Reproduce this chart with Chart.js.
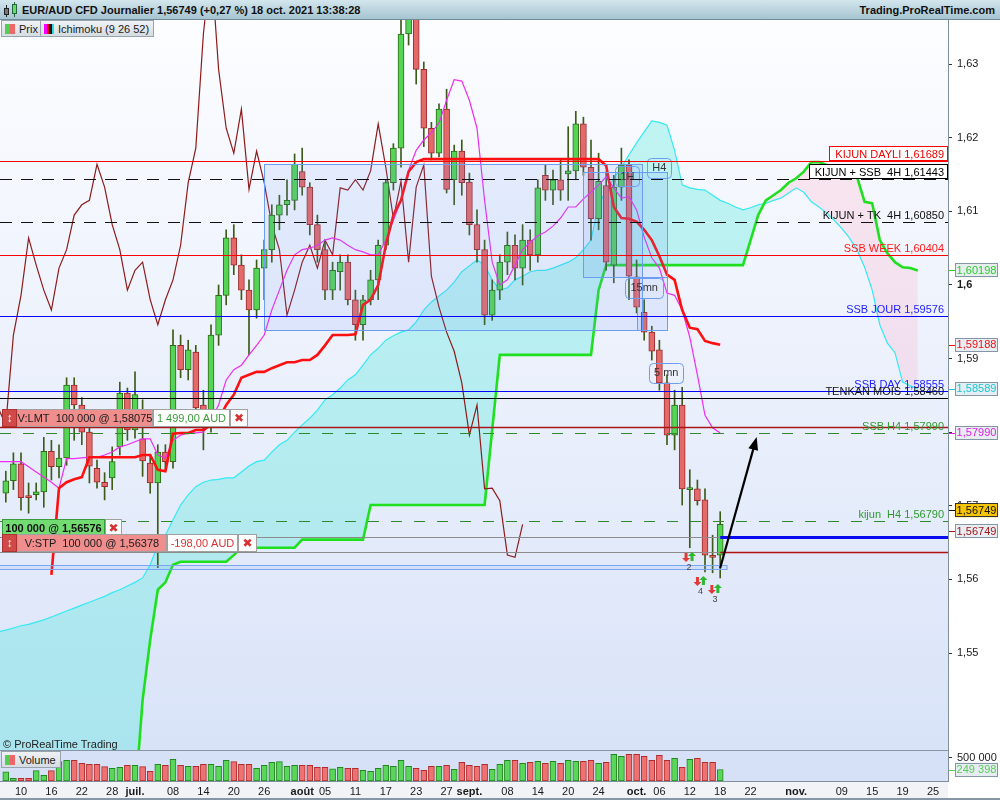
<!DOCTYPE html>
<html lang="fr">
<head>
<meta charset="utf-8">
<title>EUR/AUD CFD Journalier</title>
<script src="https://cdn.jsdelivr.net/npm/chart.js@4.4.1/dist/chart.umd.min.js"></script>
<style>
  html,body{margin:0;padding:0;background:#fff}
  body{position:relative;width:1000px;height:800px;overflow:hidden;font-family:"Liberation Sans",Arial,sans-serif;color:#111}
  #hdr{position:absolute;left:0;top:0;width:1000px;height:19px;background:linear-gradient(#d3e6ed,#a6c4d1);border-bottom:1px solid #6f8b99;font-size:11px;font-weight:bold}
  #hdr .ttl{position:absolute;left:22px;top:4px;white-space:nowrap}
  #hdr .site{position:absolute;right:5px;top:4px}
  .ico{position:absolute;box-sizing:border-box;border:1px solid #222}
  .wk{position:absolute;width:1px;background:#222}
  #main{position:absolute;left:0;top:20px}
  #vol{position:absolute;left:0;top:750px}
  .leg{position:absolute;height:17px;line-height:16px;border:1px solid #98a3ad;background:linear-gradient(#eff2f5,#d5dce2);font-size:11px;color:#1a1a1a;padding:0 4px 0 17px;box-sizing:border-box;white-space:nowrap}
  .leg i{position:absolute;left:3px;top:3px;height:10px;width:10px}
  #copy{position:absolute;left:3px;top:738px;font-size:11px;color:#222}
</style>
</head>
<body>
<canvas id="main" width="1000" height="730"></canvas>
<canvas id="vol" width="1000" height="50"></canvas>

<div id="hdr">
  <div class="wk" style="left:6px;top:5px;height:12px"></div>
  <div class="ico" style="left:4px;top:8px;width:5px;height:7px;background:#777"></div>
  <div class="wk" style="left:14px;top:2px;height:15px;background:#264"></div>
  <div class="ico" style="left:12px;top:4px;width:5px;height:10px;background:#6d6;border-color:#264"></div>
  <span class="ttl">EUR/AUD CFD Journalier 1,56749 (+0,27 %) 18 oct. 2021 13:38:28</span>
  <span class="site">Trading.ProRealTime.com</span>
</div>
<div class="leg" style="left:1px;top:20px"><i style="background:linear-gradient(90deg,#5c5 50%,#e66 50%)"></i>Prix</div>
<div class="leg" style="left:40px;top:20px"><i style="background:linear-gradient(90deg,#f0f 25%,#d00 25%,#d00 50%,#300 50%,#300 75%,#2dd 75%)"></i>Ichimoku (9 26 52)</div>
<div id="copy">© ProRealTime Trading</div>
<div class="leg" style="left:1px;top:751px"><i style="background:linear-gradient(90deg,#5c5 50%,#e66 50%)"></i>Volume</div>

<script>
// daily candles, 8 juin -> 18 oct. 2021 (index 0..94)
const open = [1.5717,1.5734,1.5757,1.5712,1.5715,1.5719,1.5774,1.5753,1.5765,1.5864,
  1.5837,1.5800,1.5751,1.5732,1.5738,1.5780,1.5853,1.5803,1.5791,1.5758,
  1.5731,1.5773,1.5760,1.5918,1.5885,1.5909,1.5837,1.5807,1.5932,1.5986,
  1.6064,1.6027,1.5993,1.5966,1.6023,1.6048,1.6095,1.6109,1.6115,1.6154,
  1.6133,1.6082,1.6048,1.5993,1.6018,1.6031,1.5980,1.5946,1.5980,1.6007,
  1.6054,1.6139,1.6186,1.6341,1.6440,1.6293,1.6213,1.6179,1.6239,1.6143,
  1.6182,1.6140,1.6082,1.6048,1.5959,1.5993,1.6031,1.6054,1.6023,1.6061,
  1.6041,1.6149,1.6129,1.6143,1.6151,1.6155,1.6219,1.6160,1.6090,1.6135,
  1.6027,1.6133,1.6163,1.6011,1.5963,1.5936,1.5912,1.5867,1.5796,1.5837,
  1.5722,1.5723,1.5708,1.5632,1.5633];
const high = [1.5747,1.5772,1.5772,1.5731,1.5731,1.5793,1.5789,1.5783,1.5874,1.5874,
  1.5847,1.5810,1.5762,1.5745,1.5780,1.5868,1.5860,1.5882,1.5844,1.5769,
  1.5783,1.5783,1.5939,1.5932,1.5925,1.5918,1.5857,1.5946,1.6000,1.6075,
  1.6082,1.6041,1.6007,1.6034,1.6061,1.6109,1.6122,1.6143,1.6178,1.6186,
  1.6139,1.6095,1.6061,1.6031,1.6041,1.6041,1.5993,1.5986,1.6020,1.6061,
  1.6143,1.6192,1.6374,1.6520,1.6455,1.6303,1.6221,1.6246,1.6266,1.6190,
  1.6197,1.6152,1.6102,1.6061,1.6007,1.6041,1.6072,1.6068,1.6082,1.6075,
  1.6143,1.6163,1.6156,1.6170,1.6215,1.6236,1.6228,1.6197,1.6179,1.6154,
  1.6149,1.6186,1.6170,1.6034,1.5980,1.5944,1.5925,1.5878,1.5857,1.5861,
  1.5749,1.5735,1.5723,1.5660,1.5692];
const low = [1.5705,1.5722,1.5694,1.5690,1.5708,1.5698,1.5735,1.5738,1.5755,1.5789,
  1.5783,1.5731,1.5724,1.5708,1.5722,1.5769,1.5789,1.5792,1.5740,1.5717,
  1.5616,1.5749,1.5751,1.5874,1.5871,1.5827,1.5776,1.5800,1.5918,1.5973,
  1.6014,1.5980,1.5905,1.5955,1.5980,1.6031,1.6075,1.6095,1.6102,1.6122,
  1.6068,1.6031,1.5980,1.5980,1.5993,1.5973,1.5925,1.5925,1.5973,1.5980,
  1.6048,1.6129,1.6160,1.6326,1.6273,1.6188,1.6170,1.6174,1.6125,1.6109,
  1.6122,1.6068,1.6031,1.5946,1.5952,1.5980,1.6014,1.6007,1.6000,1.6020,
  1.6031,1.6115,1.6109,1.6115,1.6115,1.6143,1.6149,1.6061,1.6075,1.6020,
  1.6003,1.6115,1.5980,1.5962,1.5925,1.5898,1.5857,1.5783,1.5776,1.5701,
  1.5643,1.5701,1.5610,1.5609,1.5602];
const close = [1.5734,1.5757,1.5711,1.5711,1.5719,1.5774,1.5753,1.5765,1.5864,1.5837,
  1.5800,1.5754,1.5732,1.5726,1.5760,1.5853,1.5803,1.5851,1.5761,1.5731,
  1.5773,1.5760,1.5918,1.5885,1.5912,1.5833,1.5810,1.5932,1.5986,1.6064,
  1.6027,1.5993,1.5966,1.6023,1.6048,1.6095,1.6109,1.6115,1.6164,1.6133,
  1.6082,1.6048,1.5993,1.6020,1.6031,1.5980,1.5946,1.5980,1.6007,1.6054,
  1.6139,1.6186,1.6341,1.6440,1.6293,1.6213,1.6179,1.6239,1.6130,1.6182,
  1.6139,1.6082,1.6048,1.5959,1.5993,1.6031,1.6054,1.6023,1.6061,1.6041,
  1.6132,1.6129,1.6143,1.6129,1.6155,1.6219,1.6160,1.6090,1.6141,1.6031,
  1.6133,1.6163,1.6012,1.5970,1.5936,1.5910,1.5867,1.5796,1.5837,1.5723,
  1.5724,1.5707,1.5633,1.5630,1.56749];
// volume, thousands
const volume = [202,59,59,59,224,124,224,420,450,450,
  385,363,363,311,276,298,341,341,311,211,
  363,341,472,341,320,320,363,363,320,450,
  420,363,363,276,341,407,420,320,341,341,
  341,298,298,267,298,276,276,233,211,276,
  341,320,450,320,276,233,320,320,341,254,
  407,341,320,363,254,363,450,450,385,407,
  428,385,428,385,450,428,428,450,385,407,
  580,537,580,580,537,450,559,450,494,298,
  472,494,407,407,249.398];

// Ichimoku lines (tenkan 0..94, kijun -1..94)
const tenkan = [null,null,null,null,null,null,1.5606,1.5724,1.5732,1.5736,
  1.5739,1.5766,1.5766,1.5766,1.5766,1.5766,1.5766,1.5766,1.5769,1.5769,
  1.5749,1.5747,1.5798,1.5799,1.5799,1.5803,1.5803,1.5810,1.5817,1.5837,
  1.5851,1.5874,1.5878,1.5882,1.5882,1.5887,1.5891,1.5895,1.5895,1.5898,
  1.5898,1.5905,1.5918,1.5932,1.5932,1.5932,1.5933,1.5973,1.5980,1.6000,
  1.6054,1.6095,1.6115,1.6154,1.6167,1.6171,1.6171,1.6171,1.6171,1.6171,
  1.6171,1.6171,1.6171,1.6171,1.6171,1.6171,1.6171,1.6171,1.6171,1.6171,
  1.6171,1.6171,1.6171,1.6171,1.6171,1.6171,1.6171,1.6171,1.6171,1.6162,
  1.6106,1.6091,1.6090,1.6086,1.6075,1.6061,1.6039,1.6014,1.6007,1.5966,
  1.5942,1.5940,1.5924,1.5921,1.59188];
const kijun = [1.5760,
  1.5760,1.5760,1.5760,1.5753,1.5746,1.5739,1.5732,1.5724,1.5764,1.5764,
  1.5765,1.5766,1.5766,1.5769,1.5773,1.5780,1.5783,1.5787,1.5791,1.5791,
  1.5769,1.5765,1.5789,1.5796,1.5799,1.5799,1.5800,1.5817,1.5837,1.5871,
  1.5885,1.5891,1.5905,1.5918,1.5932,1.5966,1.5993,1.6020,1.6041,1.6048,
  1.6050,1.6054,1.6061,1.6064,1.6061,1.6054,1.6048,1.6045,1.6041,1.6041,
  1.6061,1.6088,1.6115,1.6156,1.6183,1.6197,1.6207,1.6220,1.6251,1.6279,
  1.6277,1.6251,1.6213,1.6115,1.6031,1.6000,1.6007,1.6027,1.6048,1.6058,
  1.6067,1.6072,1.6080,1.6091,1.6106,1.6106,1.6117,1.6126,1.6136,1.6147,
  1.6132,1.6118,1.6120,1.6102,1.6065,1.6037,1.6023,1.5989,1.5986,1.5966,
  1.5929,1.5878,1.5823,1.5806,1.57990];
// senkou spans, index -1..120 (26 sessions ahead)
const ssa = [1.5529,
  1.5531,1.5534,1.5537,1.5539,1.5542,1.5545,1.5549,1.5553,1.5557,1.5561,
  1.5565,1.5569,1.5573,1.5577,1.5582,1.5586,1.5591,1.5596,1.5602,1.5620,
  1.5647,1.5660,1.5681,1.5701,1.5715,1.5726,1.5732,1.5735,1.5736,1.5738,
  1.5738,1.5746,1.5754,1.5760,1.5762,1.5773,1.5783,1.5789,1.5800,1.5810,
  1.5819,1.5830,1.5844,1.5851,1.5860,1.5871,1.5878,1.5891,1.5905,1.5914,
  1.5925,1.5931,1.5936,1.5939,1.5950,1.5966,1.5977,1.5985,1.5993,1.6004,
  1.6018,1.6026,1.6034,1.6027,1.6007,1.5993,1.5996,1.6007,1.6012,1.6018,
  1.6020,1.6020,1.6023,1.6027,1.6031,1.6037,1.6048,1.6061,1.6109,1.6129,
  1.6145,1.6160,1.6177,1.6193,1.6208,1.6223,1.6221,1.6217,1.6183,1.6136,
  1.6132,1.6130,1.6129,1.6122,1.6115,1.6111,1.6106,1.6102,1.6105,1.6109,
  1.6111,1.6115,1.6118,1.6125,1.6132,1.6126,1.6113,1.6106,1.6098,1.6088,
  1.6077,1.6064,1.6048,1.6024,1.5993,1.5946,1.5921,1.5908,1.5868,1.5863,
  1.58589];
const ssb = [1.5300,
  1.5300,1.5300,1.5300,1.5300,1.5300,1.5300,1.5300,1.5300,1.5300,1.5300,
  1.5300,1.5300,1.5300,1.5300,1.5300,1.5300,1.5300,1.5300,1.5436,1.5518,
  1.5586,1.5596,1.5620,1.5624,1.5624,1.5624,1.5624,1.5624,1.5624,1.5624,
  1.5633,1.5643,1.5643,1.5643,1.5643,1.5643,1.5643,1.5643,1.5643,1.5654,
  1.5654,1.5654,1.5654,1.5654,1.5654,1.5654,1.5654,1.5654,1.5701,1.5701,
  1.5701,1.5701,1.5701,1.5701,1.5701,1.5701,1.5701,1.5701,1.5701,1.5701,
  1.5701,1.5701,1.5701,1.5701,1.5803,1.5905,1.5905,1.5905,1.5905,1.5905,
  1.5905,1.5905,1.5905,1.5905,1.5905,1.5905,1.5905,1.5905,1.5993,1.6027,
  1.6027,1.6027,1.6027,1.6027,1.6027,1.6027,1.6027,1.6027,1.6027,1.6027,
  1.6027,1.6027,1.6027,1.6027,1.6027,1.6027,1.6027,1.6027,1.6061,1.6095,
  1.6115,1.6122,1.6129,1.6139,1.6145,1.6154,1.6167,1.6167,1.6163,1.6159,
  1.6155,1.6151,1.6147,1.6113,1.6111,1.6061,1.6043,1.6031,1.6024,1.6023,
  1.60198];

const priceTicks = [1.55,1.56,1.57,1.58,1.59,1.60,1.61,1.62,1.63];
const tickIdx  = [2,6,10,14,17,22,26,30,34,39,42,46,50,54,58,61,66,70,74,78,83,86,90,94,98,104,110,114,118,122];
const tickText = ['10','16','22','28','juil.','08','14','20','26','août','05','11','17','23','27','sept.','08','14','20','24','oct.','06','12','18','22','nov.','09','15','19','25'];
const monthLabels = ['juil.','août','sept.','oct.','nov.'];

// drawn support / resistance levels
const levelNames  = ['KIJUN DAYLI','KIJUN + SSB  4H','KIJUN + TK  4H','SSB WEEK','SSB JOUR','SSB DAY','TENKAN MOIS','SSB H4','kijun  H4'];
const levelPrices = [1.61689,1.61443,1.60850,1.60404,1.59576,1.58555,1.58460,1.57990,1.56790];
const levelColor  = ['#ff0000','#111111','#111111','#ff0000','#0000ff','#0000ff','#000000','#2d8a2d','#2d8a2d'];
const levelText   = ['#ee0000','#000000','#111111','#ff1a1a','#2222ff','#2222ff','#111111','#2f9a2f','#2f9a2f'];
const levelDash   = [[],[12,9],[12,9],[],[],[],[],[11,12],[11,12]];
const levelBoxed  = ['#ff0000','#000000',null,null,null,null,null,null,null];

// orders
const lmtPrice = 1.58075, posPrice = 1.56576, stpPrice = 1.56378;

// zones drawn on chart: [from index, to index, top price, bottom price]
const zones = [[34.0,83.7,1.61644,1.59389],[75.95,87.0,1.61535,1.60109],[83.05,87.0,1.60109,1.59389]];
const zoneTags = [['1H',81.8,1.61481],['H4',86.0,1.61596],['15mn',84.0,1.59966],['5 mn',86.9,1.58811]];
const markers = [[89.9,1.56359,'2'],[91.4,1.56033,'4'],[93.3,1.55924,'3']];
const arrowFrom = [94, 1.56155], arrowTo = [98.8, 1.57935];

const X_MIN = -0.763, X_MAX = 123.974;
const Y_MIN = 1.536821, Y_MAX = 1.636005;
const VOL_MAX = 673913;

Chart.defaults.font.family = '"Liberation Sans", Arial, sans-serif';
Chart.defaults.font.size = 11;

const idx = open.map((_, i) => i);
const up = idx.map(i => close[i] >= open[i]);
const pts = (arr, first = 0) => arr.map((v, i) => ({x: i + first, y: v})).filter(p => p.y !== null);
const chikou = close.slice(25).map((v, k) => ({x: k - 1, y: v}));
const fmt5 = v => v.toFixed(5).replace('.', ',');
const thousands = v => String(Math.round(v)).replace(/\B(?=(\d{3})+(?!\d))/g, ' ');
const lastOf = arr => arr[arr.length - 1];

function valueBox(ctx, x, yc, txt, fg, bg, border) {
  ctx.fillStyle = fg;
  ctx.fillRect(949, Math.round(yc), 6, 1);
  ctx.fillStyle = bg;
  ctx.fillRect(x, yc - 7, 43, 14);
  ctx.strokeStyle = border; ctx.lineWidth = 1;
  ctx.strokeRect(x + 0.5, Math.round(yc - 7) + 0.5, 42, 13);
  ctx.fillStyle = fg; ctx.font = '11px "Liberation Sans"';
  ctx.textAlign = 'center'; ctx.textBaseline = 'middle';
  ctx.fillText(txt, x + 21.5, yc + 0.5);
}

function orderBox(ctx, yb, parts) {
  const top = Math.round(yb) - 18;
  let xx = 2;
  parts.forEach(pt => {
    ctx.fillStyle = pt.bg; ctx.fillRect(xx, top, pt.w, 18);
    ctx.strokeStyle = pt.line || '#a0a0a0'; ctx.lineWidth = 1;
    ctx.strokeRect(xx + 0.5, top + 0.5, pt.w - 1, 17);
    ctx.fillStyle = pt.fg;
    ctx.font = (pt.bold ? 'bold ' : '') + (pt.size || 11) + 'px "Liberation Sans", "DejaVu Sans"';
    ctx.textAlign = 'center'; ctx.textBaseline = 'middle';
    ctx.fillText(pt.t, xx + pt.w / 2, top + 9.5);
    xx += pt.w;
  });
}

function smallArrow(ctx, cx, top, isUp, color) {
  ctx.fillStyle = color; ctx.beginPath();
  if (isUp) {
    ctx.moveTo(cx, top); ctx.lineTo(cx + 4, top + 4); ctx.lineTo(cx + 1.5, top + 4); ctx.lineTo(cx + 1.5, top + 9);
    ctx.lineTo(cx - 1.5, top + 9); ctx.lineTo(cx - 1.5, top + 4); ctx.lineTo(cx - 4, top + 4);
  } else {
    ctx.moveTo(cx, top + 9); ctx.lineTo(cx + 4, top + 5); ctx.lineTo(cx + 1.5, top + 5); ctx.lineTo(cx + 1.5, top);
    ctx.lineTo(cx - 1.5, top); ctx.lineTo(cx - 1.5, top + 5); ctx.lineTo(cx - 4, top + 5);
  }
  ctx.closePath(); ctx.fill();
}

const mainDeco = {
  id: 'mainDeco',
  beforeDraw(chart) {
    const {ctx, chartArea: a} = chart;
    ctx.save();
    const g = ctx.createLinearGradient(0, a.top, 0, a.bottom);
    g.addColorStop(0, '#fcfdff'); g.addColorStop(1, '#d9e3f8');
    ctx.fillStyle = g; ctx.fillRect(a.left, a.top, a.right - a.left, a.bottom - a.top);
    ctx.fillStyle = '#fff'; ctx.fillRect(a.right, 0, chart.width - a.right, chart.height);
    ctx.restore();
  },
  afterDatasetsDraw(chart) {
    const {ctx, chartArea: a, scales: {x, y}} = chart;
    const X = v => x.getPixelForValue(v), Y = v => y.getPixelForValue(v);
    const xLast = X(open.length - 1);
    ctx.save();
    ctx.beginPath(); ctx.rect(a.left, a.top, a.right - a.left, a.bottom - a.top); ctx.clip();

    // zones
    zones.forEach(z => {
      const x0 = Math.round(X(z[0])), x1 = Math.round(X(z[1])), y0 = Math.round(Y(z[2])), y1 = Math.round(Y(z[3]));
      ctx.fillStyle = 'rgba(105,150,250,0.13)'; ctx.fillRect(x0, y0, x1 - x0, y1 - y0);
      ctx.strokeStyle = '#6d9df3'; ctx.lineWidth = 1; ctx.strokeRect(x0 + 0.5, y0 + 0.5, x1 - x0, y1 - y0);
    });
    ctx.font = '11px "Liberation Sans"'; ctx.textAlign = 'center'; ctx.textBaseline = 'middle';
    zoneTags.forEach(t => {
      const cx = X(t[1]), cy = Y(t[2]);
      const w = ctx.measureText(t[0]).width + 10;
      ctx.strokeStyle = '#6d9df3'; ctx.lineWidth = 1;
      ctx.beginPath(); ctx.roundRect(Math.round(cx - w / 2) + 0.5, Math.round(cy - 10) + 0.5, Math.round(w), 20, 4); ctx.stroke();
      ctx.fillStyle = '#333'; ctx.fillText(t[0], cx, cy + 0.5);
    });

    // level lines
    levelPrices.forEach((p, k) => {
      const yy = Math.round(Y(p)) + 0.5;
      ctx.strokeStyle = levelColor[k]; ctx.lineWidth = 1; ctx.setLineDash(levelDash[k]);
      ctx.beginPath(); ctx.moveTo(a.left, yy); ctx.lineTo(a.right, yy); ctx.stroke();
    });
    ctx.setLineDash([]);

    // order lines
    let yy = Math.round(Y(lmtPrice)) + 0.5;
    ctx.strokeStyle = '#a81818'; ctx.lineWidth = 1.5;
    ctx.beginPath(); ctx.moveTo(a.left, yy); ctx.lineTo(a.right, yy); ctx.stroke();
    yy = Math.round(Y(posPrice)) + 0.5;
    ctx.strokeStyle = '#8c8c8c'; ctx.lineWidth = 1;
    ctx.beginPath(); ctx.moveTo(a.left, yy); ctx.lineTo(xLast, yy); ctx.stroke();
    ctx.strokeStyle = '#0a0aee'; ctx.lineWidth = 3;
    ctx.beginPath(); ctx.moveTo(xLast, yy); ctx.lineTo(a.right, yy); ctx.stroke();
    yy = Math.round(Y(stpPrice)) + 0.5;
    ctx.strokeStyle = '#8c8c8c'; ctx.lineWidth = 1;
    ctx.beginPath(); ctx.moveTo(a.left, yy); ctx.lineTo(xLast, yy); ctx.stroke();
    ctx.strokeStyle = '#b01212'; ctx.lineWidth = 1.5;
    ctx.beginPath(); ctx.moveTo(xLast, yy); ctx.lineTo(a.right, yy); ctx.stroke();

    // thin band under last candles
    const by0 = Math.round(Y(1.56196)), by1 = Math.round(Y(1.56141));
    ctx.fillStyle = 'rgba(120,160,250,0.15)'; ctx.fillRect(a.left, by0, X(94.9) - a.left, by1 - by0);
    ctx.strokeStyle = '#7aa6f0'; ctx.lineWidth = 1; ctx.strokeRect(a.left - 1, by0 + 0.5, X(94.9) - a.left + 1, by1 - by0);

    // level labels
    ctx.font = '11px "Liberation Sans"'; ctx.textAlign = 'right'; ctx.textBaseline = 'alphabetic';
    levelPrices.forEach((p, k) => {
      const ly = Y(p), txt = levelNames[k] + ' ' + fmt5(p);
      if (levelBoxed[k]) {
        const w = Math.round(ctx.measureText(txt).width + 9);
        const bt = Math.round(ly) - 15;
        ctx.fillStyle = '#fff'; ctx.fillRect(a.right - w - 1, bt, w, 15);
        ctx.strokeStyle = levelBoxed[k]; ctx.lineWidth = 1; ctx.strokeRect(a.right - w - 0.5, bt + 0.5, w, 14);
      }
      ctx.fillStyle = levelText[k]; ctx.fillText(txt, a.right - 4, ly - 3);
    });

    // small execution markers
    ctx.font = '9px "Liberation Sans"'; ctx.textAlign = 'center'; ctx.textBaseline = 'middle';
    markers.forEach(m => {
      const cx = X(m[0]), ty = Y(m[1]);
      smallArrow(ctx, cx - 3, ty, false, '#e23a3a');
      smallArrow(ctx, cx + 3, ty - 1, true, '#2db82d');
      ctx.fillStyle = '#444'; ctx.fillText(m[2], cx, ty + 15);
    });

    // arrow
    const ax0 = X(arrowFrom[0]), ay0 = Y(arrowFrom[1]), ax1 = X(arrowTo[0]), ay1 = Y(arrowTo[1]);
    const ang = Math.atan2(ay1 - ay0, ax1 - ax0);
    ctx.strokeStyle = '#000'; ctx.lineWidth = 2.2;
    ctx.beginPath(); ctx.moveTo(ax0, ay0);
    ctx.lineTo(ax1 - 9 * Math.cos(ang), ay1 - 9 * Math.sin(ang)); ctx.stroke();
    ctx.fillStyle = '#000'; ctx.beginPath();
    ctx.moveTo(ax1, ay1);
    ctx.lineTo(ax1 - 13 * Math.cos(ang) + 5 * Math.sin(ang), ay1 - 13 * Math.sin(ang) - 5 * Math.cos(ang));
    ctx.lineTo(ax1 - 13 * Math.cos(ang) - 5 * Math.sin(ang), ay1 - 13 * Math.sin(ang) + 5 * Math.cos(ang));
    ctx.closePath(); ctx.fill();
    ctx.restore();
  },
  afterDraw(chart) {
    const {ctx, scales: {y}} = chart;
    const Y = v => y.getPixelForValue(v);
    ctx.save();
    valueBox(ctx, 955, Y(lastOf(ssb)), fmt5(lastOf(ssb)), '#2ccc2c', '#e6efed', '#8796a5');
    valueBox(ctx, 955, Y(lastOf(tenkan)), fmt5(lastOf(tenkan)), '#ee1111', '#e8edf4', '#8796a5');
    valueBox(ctx, 955, Y(lastOf(ssa)), fmt5(lastOf(ssa)), '#1cc6d2', '#e4eef3', '#8796a5');
    valueBox(ctx, 955, Y(lastOf(kijun)), fmt5(lastOf(kijun)), '#e21fe2', '#e8edf4', '#8796a5');
    const last = lastOf(close);
    valueBox(ctx, 955, Y(last) - 14, fmt5(last), '#111', '#f6c400', '#333');
    valueBox(ctx, 955, Y(last) + 7, fmt5(last), '#a01818', '#e8edf4', '#8796a5');

    orderBox(ctx, Y(lmtPrice), [
      {w: 15, bg: '#d24a48', fg: '#fff', t: '↕', bold: true, size: 12, line: '#a33'},
      {w: 136, bg: '#f08d8d', fg: '#1a1a1a', t: 'V:LMT  100 000 @ ' + fmt5(lmtPrice)},
      {w: 77, bg: '#fff', fg: '#3a9a3a', t: '1 499,00 AUD'},
      {w: 18, bg: '#fff', fg: '#d83030', t: '✖', size: 12}
    ]);
    orderBox(ctx, Y(posPrice), [
      {w: 103, bg: '#72dc72', fg: '#111', t: '100 000 @ ' + fmt5(posPrice), bold: true, line: '#3a9a3a'},
      {w: 17, bg: '#fff', fg: '#d83030', t: '✖', size: 12}
    ]);
    orderBox(ctx, Y(stpPrice), [
      {w: 15, bg: '#d24a48', fg: '#fff', t: '↕', bold: true, size: 12, line: '#a33'},
      {w: 150, bg: '#f08d8d', fg: '#1a1a1a', t: 'V:STP  100 000 @ ' + fmt5(stpPrice)},
      {w: 71, bg: '#fff', fg: '#d83030', t: '-198,00 AUD'},
      {w: 19, bg: '#fff', fg: '#d83030', t: '✖', size: 12}
    ]);
    ctx.restore();
  }
};

new Chart(document.getElementById('main'), {
  type: 'bar',
  data: {
    datasets: [
      {type: 'line', label: 'SSB', data: pts(ssb, -1), borderColor: '#1fe01f', borderWidth: 2.6, pointRadius: 0, fill: false, order: 6},
      {type: 'line', label: 'SSA', data: pts(ssa, -1), borderColor: '#35e9f2', borderWidth: 1.2, pointRadius: 0, order: 7,
        fill: {target: 0, above: 'rgba(64,232,215,0.30)', below: 'rgba(255,175,200,0.26)'}},
      {type: 'line', label: 'Chikou', data: chikou, borderColor: '#8e1b1b', borderWidth: 1.2, pointRadius: 0, fill: false, order: 5},
      {type: 'bar', label: 'wicks', data: idx.map(i => ({x: i, y: [low[i], high[i]]})),
        backgroundColor: '#3b5b17', barThickness: 1, grouped: false, order: 4},
      {type: 'bar', label: 'bodies', data: idx.map(i => ({x: i, y: [open[i], close[i]]})),
        backgroundColor: idx.map(i => up[i] ? '#56d456' : '#e46a6a'),
        borderColor: idx.map(i => up[i] ? '#2c6b12' : '#9a2b2b'),
        borderWidth: 1, borderSkipped: false, barThickness: 6, minBarLength: 2, grouped: false, order: 3},
      {type: 'line', label: 'Kijun', data: pts(kijun, -1), borderColor: '#f02cf0', borderWidth: 1.2, pointRadius: 0, fill: false, order: 2},
      {type: 'line', label: 'Tenkan', data: pts(tenkan), borderColor: '#ff1010', borderWidth: 2.6, pointRadius: 0, fill: false, order: 1}
    ]
  },
  options: {
    animation: false, responsive: false, events: [],
    layout: {padding: 0},
    plugins: {legend: {display: false}, tooltip: {enabled: false}},
    scales: {
      x: {type: 'linear', min: X_MIN, max: X_MAX, offset: false, display: false},
      y: {
        position: 'right', min: Y_MIN, max: Y_MAX,
        afterBuildTicks: s => { s.ticks = priceTicks.map(v => ({value: v})); },
        afterFit: s => { s.width = 52; s.paddingTop = 0; s.paddingBottom = 0; },
        grid: {drawOnChartArea: false, tickLength: 4, color: '#333'},
        border: {color: '#7f8f9c'},
        ticks: {
          padding: 5, color: '#1a1a1a',
          font: c => ({size: 11, weight: c.tick && c.tick.value === 1.6 ? 'bold' : 'normal'}),
          callback: v => (Math.round(v * 100) / 100).toString().replace('.', ',')
        }
      }
    }
  },
  plugins: [mainDeco]
});

const volDeco = {
  id: 'volDeco',
  beforeDraw(chart) {
    const {ctx, chartArea: a} = chart;
    ctx.save();
    ctx.fillStyle = '#d6e1f8'; ctx.fillRect(a.left, a.top, a.right - a.left, a.bottom - a.top);
    ctx.fillStyle = '#f1f3f6'; ctx.fillRect(0, a.bottom, a.right, chart.height - a.bottom);
    ctx.fillStyle = '#fff'; ctx.fillRect(a.right, 0, chart.width - a.right, chart.height);
    ctx.fillStyle = '#8796a5'; ctx.fillRect(0, 0, a.right, 1); ctx.fillRect(0, chart.height - 2, chart.width, 2);
    ctx.restore();
  },
  afterDraw(chart) {
    const {ctx, scales: {y}} = chart;
    const v = lastOf(volume) * 1000;
    ctx.save();
    valueBox(ctx, 955, y.getPixelForValue(v), thousands(v), '#5ccc5c', '#e6edf2', '#8796a5');
    ctx.restore();
  }
};

new Chart(document.getElementById('vol'), {
  type: 'bar',
  data: {
    datasets: [{
      label: 'Volume', data: idx.map(i => ({x: i, y: volume[i] * 1000})),
      backgroundColor: idx.map(i => up[i] ? '#5ad65a' : '#ee7272'),
      borderColor: idx.map(i => up[i] ? '#22861e' : '#b22a2a'),
      borderWidth: 1, borderSkipped: false, barThickness: 6, grouped: false
    }]
  },
  options: {
    animation: false, responsive: false, events: [],
    layout: {padding: 0},
    plugins: {legend: {display: false}, tooltip: {enabled: false}},
    scales: {
      x: {
        type: 'linear', min: X_MIN, max: X_MAX, offset: false,
        afterBuildTicks: s => { s.ticks = tickIdx.map(v => ({value: v})); },
        afterFit: s => { s.height = 19; s.paddingLeft = 0; s.paddingRight = 0; },
        grid: {display: false, drawTicks: false},
        border: {display: true, color: '#7f8f9c'},
        ticks: {
          autoSkip: false, maxRotation: 0, minRotation: 0, padding: 4, color: '#1a1a1a',
          font: c => ({size: 11, weight: monthLabels.includes(tickText[c.index]) ? 'bold' : 'normal'}),
          callback: (v, i) => tickText[i]
        }
      },
      y: {
        position: 'right', min: 0, max: VOL_MAX,
        afterBuildTicks: s => { s.ticks = [{value: 500000}]; },
        afterFit: s => { s.width = 52; s.paddingTop = 0; s.paddingBottom = 0; },
        grid: {drawOnChartArea: false, tickLength: 4, color: '#333'},
        border: {color: '#7f8f9c'},
        ticks: {padding: 5, color: '#1a1a1a', font: {size: 11}, callback: v => thousands(v)}
      }
    }
  },
  plugins: [volDeco]
});
</script>
</body>
</html>
